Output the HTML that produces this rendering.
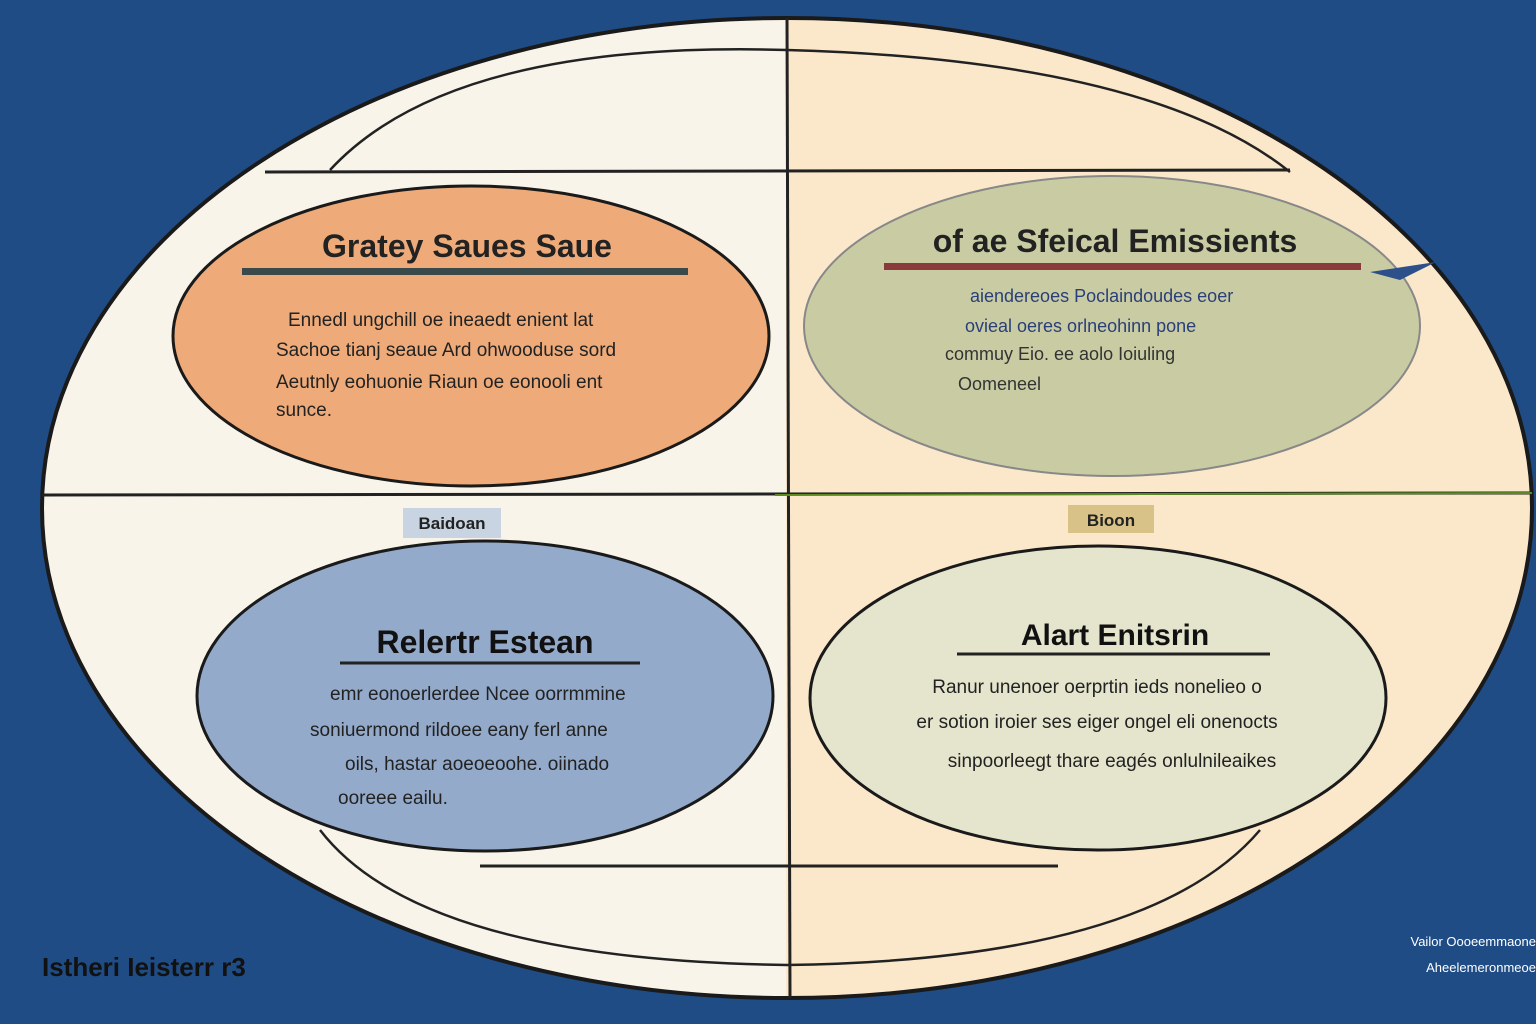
<!DOCTYPE html>
<html><head><meta charset="utf-8"><style>
html,body{margin:0;padding:0;background:#1f4c85;}
svg{display:block}
text{font-family:"Liberation Sans",sans-serif;}
</style></head><body>
<svg width="1536" height="1024" viewBox="0 0 1536 1024" xmlns="http://www.w3.org/2000/svg">
<rect width="1536" height="1024" fill="#1f4c85"/>
<defs><clipPath id="L"><rect x="0" y="0" width="786" height="1024"/></clipPath>
<clipPath id="R"><rect x="786" y="0" width="800" height="1024"/></clipPath></defs>
<ellipse cx="787" cy="508" rx="745" ry="490" fill="#f8f4ea" clip-path="url(#L)"/>
<ellipse cx="787" cy="508" rx="745" ry="490" fill="#fbe8cb" clip-path="url(#R)"/>
<ellipse cx="787" cy="508" rx="745" ry="490" fill="none" stroke="#1a1a1a" stroke-width="4"/>
<line x1="787" y1="18" x2="790" y2="998" stroke="#222" stroke-width="3"/>
<line x1="42" y1="495" x2="1532" y2="493" stroke="#222" stroke-width="3"/>
<line x1="775" y1="495" x2="1532" y2="493" stroke="#5a8a20" stroke-width="2"/>
<line x1="265" y1="172" x2="1290" y2="170" stroke="#222" stroke-width="3"/>
<line x1="480" y1="866" x2="1058" y2="866" stroke="#222" stroke-width="3"/>
<path d="M330 170 Q450 40 787 50" fill="none" stroke="#222" stroke-width="2.5"/>
<path d="M787 50 Q1150 60 1290 172" fill="none" stroke="#222" stroke-width="2.5"/>
<path d="M320 830 Q420 960 787 965 Q1150 960 1260 830" fill="none" stroke="#222" stroke-width="2.5"/>
<ellipse cx="471" cy="336" rx="298" ry="150" fill="#eeab79" stroke="#1a1a1a" stroke-width="3"/>
<ellipse cx="1112" cy="326" rx="308" ry="150" fill="#c9cca3" stroke="#888" stroke-width="2"/>
<ellipse cx="485" cy="696" rx="288" ry="155" fill="#93aacb" stroke="#1a1a1a" stroke-width="3"/>
<ellipse cx="1098" cy="698" rx="288" ry="152" fill="#e5e5cd" stroke="#1a1a1a" stroke-width="3"/>
<polygon points="1370,272 1436,262 1400,280" fill="#2d4f8a"/>
<text x="467" y="257" font-size="32" font-weight="bold" text-anchor="middle" fill="#222">Gratey Saues Saue</text>
<rect x="242" y="268" width="446" height="7" fill="#3a4a4a"/>
<g font-size="19" fill="#222">
<text x="288" y="326">Ennedl ungchill oe ineaedt enient lat</text>
<text x="276" y="356">Sachoe tianj seaue Ard ohwooduse sord</text>
<text x="276" y="388">Aeutnly eohuonie Riaun oe eonooli ent</text>
<text x="276" y="416">sunce.</text>
</g>
<text x="1115" y="252" font-size="32" font-weight="bold" text-anchor="middle" fill="#222">of ae Sfeical Emissients</text>
<rect x="884" y="263" width="477" height="7" fill="#8a3a3a"/>
<g font-size="18" fill="#2a3f78">
<text x="970" y="302">aiendereoes Poclaindoudes eoer</text>
<text x="965" y="332">ovieal oeres orlneohinn pone</text>
<text x="945" y="360" fill="#333">commuy Eio. ee aolo Ioiuling</text>
<text x="958" y="390" fill="#333">Oomeneel</text>
</g>
<rect x="403" y="508" width="98" height="30" fill="#c8d4e2"/>
<text x="452" y="529" font-size="17" font-weight="bold" text-anchor="middle" fill="#222">Baidoan</text>
<rect x="1068" y="505" width="86" height="28" fill="#d9c288"/>
<text x="1111" y="526" font-size="17" font-weight="bold" text-anchor="middle" fill="#222">Bioon</text>
<text x="485" y="653" font-size="32" font-weight="bold" text-anchor="middle" fill="#111">Relertr Estean</text>
<line x1="340" y1="663" x2="640" y2="663" stroke="#222" stroke-width="3"/>
<g font-size="19" fill="#222">
<text x="330" y="700">emr eonoerlerdee Ncee oorrmmine</text>
<text x="310" y="736">soniuermond rildoee eany ferl anne</text>
<text x="345" y="770">oils, hastar aoeoeoohe. oiinado</text>
<text x="338" y="804">ooreee eailu.</text>
</g>
<text x="1115" y="645" font-size="30" font-weight="bold" text-anchor="middle" fill="#111">Alart Enitsrin</text>
<line x1="957" y1="654" x2="1270" y2="654" stroke="#222" stroke-width="3"/>
<g font-size="19" fill="#222" text-anchor="middle">
<text x="1097" y="693">Ranur unenoer oerprtin ieds nonelieo o</text>
<text x="1097" y="728">er sotion iroier ses eiger ongel eli onenocts</text>
<text x="1112" y="767">sinpoorleegt thare eagés onlulnileaikes</text>
</g>
<text x="42" y="976" font-size="26" font-weight="bold" fill="#111">Istheri Ieisterr r3</text>
<text x="1536" y="946" font-size="13" fill="#fff" text-anchor="end">Vailor Oooeemmaone</text>
<text x="1536" y="972" font-size="13" fill="#fff" text-anchor="end">Aheelemeronmeoe</text>
</svg>
</body></html>
